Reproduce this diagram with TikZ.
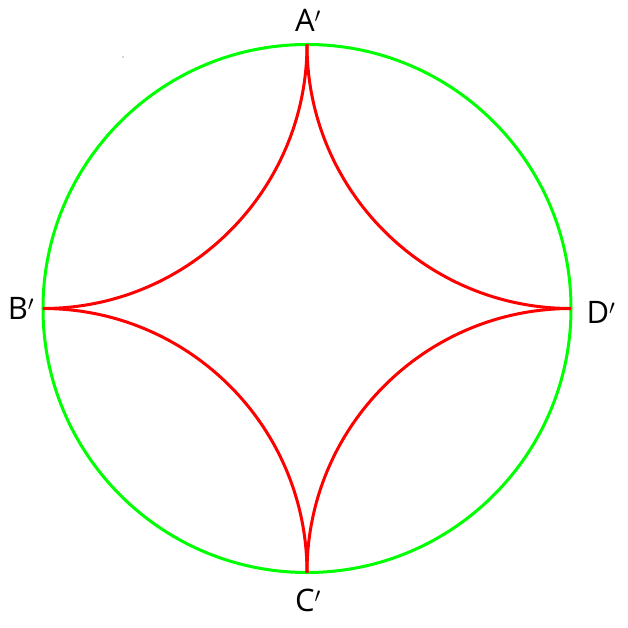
\documentclass[tikz,border=0pt]{standalone}
\usepackage{fontspec}
\setmainfont{Open Sans}
\tikzset{
    disk/.style={draw=green, line width=3pt},
    geod/.style={draw=red, line width=3pt},
    vlabel/.style={font=\fontsize{31}{35}\selectfont, inner sep=0pt}
}
\begin{document}
\begin{tikzpicture}[x=1pt, y=1pt]
    \def\R{264};

    \useasboundingbox (-307,-318.5) rectangle (321,308.5);

% boundary points
    \coordinate (A) at (0, \R);
    \coordinate (B) at (-\R, 0);
    \coordinate (C) at (0, -\R);
    \coordinate (D) at (\R, 0);

% disk
    \draw[disk] (0,0) circle (\R);

% geodesics, centres on the corners
    \draw[geod] (A) arc[start angle=180, end angle=270, radius=\R];
    \draw[geod] (A) arc[start angle=0, end angle=-90, radius=\R];
    \draw[geod] (C) arc[start angle=180, end angle=90, radius=\R];
    \draw[geod] (C) arc[start angle=0, end angle=90, radius=\R];

% labels
    \node[vlabel] (lA) at (1, 288.5) {A$'$};
    \node[vlabel] (lB) at (-286, 0) {B$'$};
    \node[vlabel] (lC) at (1, -292) {C$'$};
    \node[vlabel] (lD) at (294, -4) {D$'$};

    \fill[black!70] (-184, 251.5) circle (0.6);
\end{tikzpicture}
\end{document}
